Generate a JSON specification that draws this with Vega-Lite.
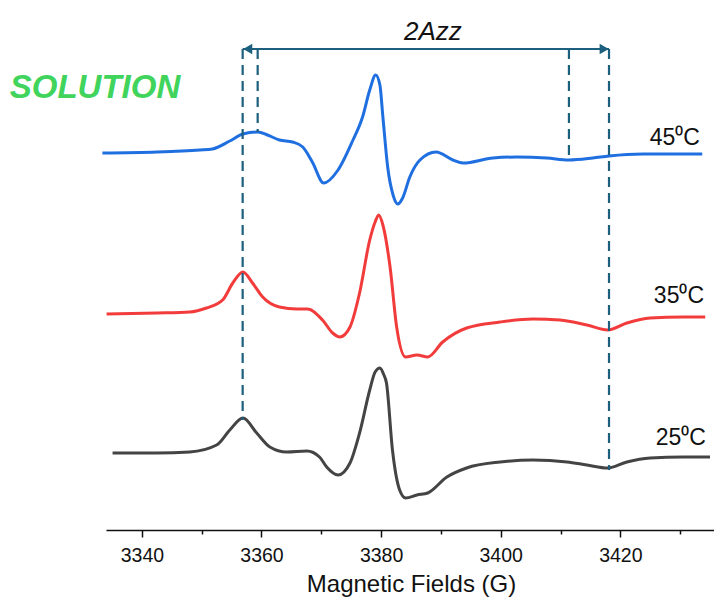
{
  "$schema": "https://vega.github.io/schema/vega-lite/v6.json",
  "width": 610,
  "height": 530,
  "autosize": {"type": "none"},
  "padding": {"left": 106, "top": 0, "right": 0, "bottom": 75},
  "config": {"view": {"stroke": null}, "font": "Liberation Sans"},
  "datasets": {
    "spectra": [
      {"field": 3333.4, "signal": 377, "series": "45"},
      {"field": 3342.5, "signal": 378, "series": "45"},
      {"field": 3349.7, "signal": 380, "series": "45"},
      {"field": 3351.8, "signal": 381, "series": "45"},
      {"field": 3354.7, "signal": 389, "series": "45"},
      {"field": 3356.9, "signal": 396, "series": "45"},
      {"field": 3359.4, "signal": 398, "series": "45"},
      {"field": 3361.0, "signal": 395, "series": "45"},
      {"field": 3363.0, "signal": 390, "series": "45"},
      {"field": 3365.2, "signal": 388, "series": "45"},
      {"field": 3366.9, "signal": 383, "series": "45"},
      {"field": 3368.5, "signal": 368, "series": "45"},
      {"field": 3370.4, "signal": 347, "series": "45"},
      {"field": 3372.8, "signal": 360, "series": "45"},
      {"field": 3375.3, "signal": 390, "series": "45"},
      {"field": 3376.9, "signal": 413, "series": "45"},
      {"field": 3378.1, "signal": 440, "series": "45"},
      {"field": 3379.1, "signal": 455, "series": "45"},
      {"field": 3379.8, "signal": 445, "series": "45"},
      {"field": 3380.3, "signal": 413, "series": "45"},
      {"field": 3381.1, "signal": 363, "series": "45"},
      {"field": 3382.0, "signal": 335, "series": "45"},
      {"field": 3382.8, "signal": 326, "series": "45"},
      {"field": 3383.6, "signal": 332, "series": "45"},
      {"field": 3384.8, "signal": 353, "series": "45"},
      {"field": 3386.5, "signal": 370, "series": "45"},
      {"field": 3389.2, "signal": 378, "series": "45"},
      {"field": 3392.0, "signal": 370, "series": "45"},
      {"field": 3393.7, "signal": 367, "series": "45"},
      {"field": 3398.7, "signal": 372, "series": "45"},
      {"field": 3402.7, "signal": 373, "series": "45"},
      {"field": 3407.7, "signal": 372, "series": "45"},
      {"field": 3411.4, "signal": 370, "series": "45"},
      {"field": 3415.4, "signal": 372, "series": "45"},
      {"field": 3418.1, "signal": 374, "series": "45"},
      {"field": 3423.8, "signal": 376, "series": "45"},
      {"field": 3433.7, "signal": 376, "series": "45"},

      {"field": 3334.1, "signal": 216, "series": "35"},
      {"field": 3342.5, "signal": 217, "series": "35"},
      {"field": 3348.0, "signal": 218, "series": "35"},
      {"field": 3350.8, "signal": 222, "series": "35"},
      {"field": 3353.5, "signal": 230, "series": "35"},
      {"field": 3355.2, "signal": 247, "series": "35"},
      {"field": 3356.9, "signal": 258, "series": "35"},
      {"field": 3358.5, "signal": 247, "series": "35"},
      {"field": 3360.2, "signal": 233, "series": "35"},
      {"field": 3363.0, "signal": 223, "series": "35"},
      {"field": 3365.9, "signal": 221, "series": "35"},
      {"field": 3367.7, "signal": 221, "series": "35"},
      {"field": 3370.2, "signal": 210, "series": "35"},
      {"field": 3371.9, "signal": 197, "series": "35"},
      {"field": 3373.1, "signal": 193, "series": "35"},
      {"field": 3374.8, "signal": 203, "series": "35"},
      {"field": 3376.4, "signal": 237, "series": "35"},
      {"field": 3378.1, "signal": 290, "series": "35"},
      {"field": 3379.0, "signal": 308, "series": "35"},
      {"field": 3379.6, "signal": 315, "series": "35"},
      {"field": 3380.3, "signal": 305, "series": "35"},
      {"field": 3381.5, "signal": 263, "series": "35"},
      {"field": 3382.6, "signal": 203, "series": "35"},
      {"field": 3384.1, "signal": 173, "series": "35"},
      {"field": 3386.0, "signal": 175, "series": "35"},
      {"field": 3387.8, "signal": 173, "series": "35"},
      {"field": 3390.3, "signal": 188, "series": "35"},
      {"field": 3394.3, "signal": 202, "series": "35"},
      {"field": 3399.9, "signal": 208, "series": "35"},
      {"field": 3405.4, "signal": 211, "series": "35"},
      {"field": 3409.9, "signal": 210, "series": "35"},
      {"field": 3414.4, "signal": 205, "series": "35"},
      {"field": 3417.9, "signal": 200, "series": "35"},
      {"field": 3421.1, "signal": 207, "series": "35"},
      {"field": 3425.0, "signal": 212, "series": "35"},
      {"field": 3430.5, "signal": 213, "series": "35"},
      {"field": 3434.2, "signal": 213, "series": "35"},

      {"field": 3335.1, "signal": 77, "series": "25"},
      {"field": 3342.5, "signal": 77, "series": "25"},
      {"field": 3348.0, "signal": 78, "series": "25"},
      {"field": 3352.5, "signal": 85, "series": "25"},
      {"field": 3354.7, "signal": 100, "series": "25"},
      {"field": 3356.9, "signal": 112, "series": "25"},
      {"field": 3359.2, "signal": 97, "series": "25"},
      {"field": 3361.4, "signal": 83, "series": "25"},
      {"field": 3364.2, "signal": 78, "series": "25"},
      {"field": 3367.6, "signal": 79, "series": "25"},
      {"field": 3369.7, "signal": 73, "series": "25"},
      {"field": 3370.9, "signal": 63, "series": "25"},
      {"field": 3372.8, "signal": 55, "series": "25"},
      {"field": 3374.8, "signal": 67, "series": "25"},
      {"field": 3376.4, "signal": 97, "series": "25"},
      {"field": 3378.1, "signal": 140, "series": "25"},
      {"field": 3379.0, "signal": 158, "series": "25"},
      {"field": 3379.8, "signal": 162, "series": "25"},
      {"field": 3380.4, "signal": 156, "series": "25"},
      {"field": 3380.9, "signal": 147, "series": "25"},
      {"field": 3381.9, "signal": 80, "series": "25"},
      {"field": 3383.1, "signal": 40, "series": "25"},
      {"field": 3384.1, "signal": 32, "series": "25"},
      {"field": 3386.0, "signal": 35, "series": "25"},
      {"field": 3387.8, "signal": 37, "series": "25"},
      {"field": 3391.0, "signal": 53, "series": "25"},
      {"field": 3394.3, "signal": 62, "series": "25"},
      {"field": 3399.9, "signal": 68, "series": "25"},
      {"field": 3405.4, "signal": 70, "series": "25"},
      {"field": 3411.1, "signal": 68, "series": "25"},
      {"field": 3414.4, "signal": 65, "series": "25"},
      {"field": 3417.9, "signal": 62, "series": "25"},
      {"field": 3421.1, "signal": 68, "series": "25"},
      {"field": 3425.0, "signal": 72, "series": "25"},
      {"field": 3430.5, "signal": 73, "series": "25"},
      {"field": 3435.0, "signal": 73, "series": "25"}
    ],
    "guides": [
      {"field": 3356.85, "top": 481, "bottom": 110},
      {"field": 3359.36, "top": 481, "bottom": 398},
      {"field": 3411.41, "top": 481, "bottom": 375},
      {"field": 3418.11, "top": 481, "bottom": 60}
    ],
    "labels": [
      {"field": 3433.3, "signal": 385, "text": "45⁰C"},
      {"field": 3434.0, "signal": 227, "text": "35⁰C"},
      {"field": 3434.3, "signal": 85, "text": "25⁰C"}
    ]
  },
  "encoding": {
    "x": {
      "field": "field",
      "type": "quantitative",
      "scale": {"domain": [3334, 3436], "nice": false, "zero": false},
      "axis": {
        "values": [3340, 3350, 3360, 3370, 3380, 3390, 3400, 3410, 3420, 3430],
        "format": "d",
        "labelExpr": "datum.value % 20 === 0 ? datum.label : ''",
        "tickSize": {"condition": {"test": "datum.value % 20 === 0", "value": 7}, "value": 4},
        "tickColor": "#111111",
        "tickWidth": 1.5,
        "domainColor": "#111111",
        "domainWidth": 1.5,
        "labelFontSize": 19.5,
        "labelColor": "#111111",
        "labelPadding": 9,
        "labelFlush": false,
        "grid": false,
        "title": "Magnetic Fields (G)",
        "titleFontSize": 24,
        "titleFontWeight": "normal",
        "titleColor": "#111111",
        "titlePadding": 8
      }
    },
    "y": {
      "field": "signal",
      "type": "quantitative",
      "scale": {"domain": [0, 530], "nice": false, "zero": false},
      "axis": null
    }
  },
  "layer": [
    {
      "data": {"name": "spectra"},
      "mark": {"type": "line", "interpolate": "monotone", "strokeWidth": 3},
      "encoding": {
        "color": {
          "field": "series",
          "type": "nominal",
          "scale": {"domain": ["45", "35", "25"], "range": ["#1f6fe0", "#f23c3c", "#444444"]},
          "legend": null
        }
      }
    },
    {
      "data": {"name": "guides"},
      "mark": {"type": "rule", "strokeDash": [10, 6], "strokeWidth": 2.2, "color": "#1d5f7e"},
      "encoding": {
        "y": {"field": "top", "type": "quantitative"},
        "y2": {"field": "bottom"}
      }
    },
    {
      "data": {"values": [{"from": 3356.85, "to": 3418.11, "level": 481}]},
      "mark": {"type": "rule", "strokeWidth": 2.2, "color": "#1d5f7e"},
      "encoding": {
        "x": {"field": "from", "type": "quantitative"},
        "x2": {"field": "to"},
        "y": {"field": "level", "type": "quantitative"}
      }
    },
    {
      "data": {"values": [{"pos": 3357.7, "level": 481}]},
      "mark": {"type": "point", "shape": "triangle-left", "filled": true, "size": 110, "color": "#1d5f7e", "opacity": 1},
      "encoding": {
        "x": {"field": "pos", "type": "quantitative"},
        "y": {"field": "level", "type": "quantitative"}
      }
    },
    {
      "data": {"values": [{"pos": 3417.3, "level": 481}]},
      "mark": {"type": "point", "shape": "triangle-right", "filled": true, "size": 110, "color": "#1d5f7e", "opacity": 1},
      "encoding": {
        "x": {"field": "pos", "type": "quantitative"},
        "y": {"field": "level", "type": "quantitative"}
      }
    },
    {
      "data": {"name": "labels"},
      "mark": {"type": "text", "align": "right", "baseline": "alphabetic", "fontSize": 23, "color": "#111111"},
      "encoding": {"text": {"field": "text"}}
    },
    {
      "data": {"values": [{"pos": 3388.65, "level": 490, "text": "2Azz"}]},
      "mark": {"type": "text", "align": "center", "baseline": "alphabetic", "fontSize": 26, "fontStyle": "italic", "color": "#111111"},
      "encoding": {
        "x": {"field": "pos", "type": "quantitative"},
        "y": {"field": "level", "type": "quantitative"},
        "text": {"field": "text"}
      }
    },
    {
      "data": {"values": [{"pos": 3317.9, "level": 432, "text": "SOLUTION"}]},
      "mark": {"type": "text", "align": "left", "baseline": "alphabetic", "fontSize": 33, "fontStyle": "italic", "fontWeight": "bold", "color": "#40d45c"},
      "encoding": {
        "x": {"field": "pos", "type": "quantitative"},
        "y": {"field": "level", "type": "quantitative"},
        "text": {"field": "text"}
      }
    }
  ]
}
